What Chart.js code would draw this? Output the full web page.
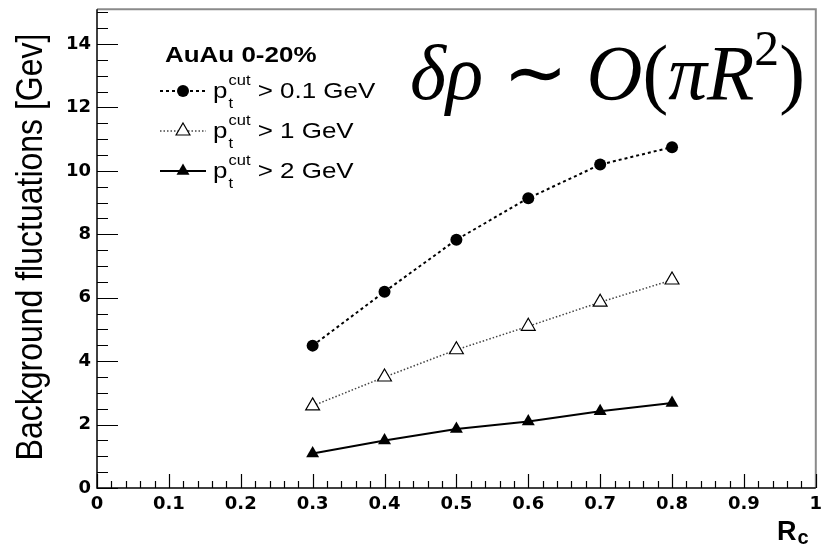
<!DOCTYPE html>
<html><head><meta charset="utf-8">
<script src="https://cdn.jsdelivr.net/npm/chart.js@4.4.0/dist/chart.umd.min.js"></script>
<style>html,body{margin:0;padding:0;background:#fff;overflow:hidden}canvas{display:block}</style>
</head><body>
<canvas id="c" width="825" height="546"></canvas>
<script>
// ---- data ----
const rValues   = [0.3, 0.4, 0.5, 0.6, 0.7, 0.8];
const ptCut01   = [4.49, 6.19, 7.83, 9.14, 10.2, 10.75];
const ptCut1    = [2.59, 3.5, 4.36, 5.1, 5.86, 6.56];
const ptCut2    = [1.09, 1.5, 1.86, 2.1, 2.42, 2.68];
const xTickValues = [0, 0.1, 0.2, 0.3, 0.4, 0.5, 0.6, 0.7, 0.8, 0.9, 1];
const yTickValues = [0, 2, 4, 6, 8, 10, 12, 14];
const seriesLabels = ['> 0.1 GeV', '> 1 GeV', '> 2 GeV'];
const legendTitle = 'AuAu 0-20%';
const yTitle = 'Background fluctuations [Gev]';
const xTitleMain = 'R', xTitleSub = 'c';

const SX = 1.18; // horizontal stretch of the reference text
const tickFont = {family: 'DejaVu Sans', weight: 'bold', size: 18};

function pts(ys){ return rValues.map((x, i) => ({x: x, y: ys[i]})); }

function stretchedText(ctx, text, x, y, font, sx){
  ctx.save(); ctx.font = font; ctx.translate(x, y); ctx.scale(sx, 1);
  ctx.fillText(text, 0, 0); const w = ctx.measureText(text).width * sx;
  ctx.restore(); return w;
}
function drawMarker(ctx, style, x, y, r, fill, stroke, lw){
  ctx.save(); ctx.beginPath();
  if (style === 'circle') ctx.arc(x, y, r, 0, Math.PI*2);
  else { const h = Math.sqrt(3)/2*r;
    ctx.moveTo(x, y - r); ctx.lineTo(x + h, y + r/2); ctx.lineTo(x - h, y + r/2); ctx.closePath(); }
  ctx.fillStyle = fill; ctx.fill();
  if (lw > 0){ ctx.lineWidth = lw; ctx.strokeStyle = stroke; ctx.stroke(); }
  ctx.restore();
}

const decor = {
  id: 'decor',
  beforeDatasetsDraw(chart){
    const ctx = chart.ctx, a = chart.chartArea, xs = chart.scales.x, ys = chart.scales.y;
    ctx.save();
    // frame
    ctx.strokeStyle = '#8a8a8a'; ctx.lineWidth = 2;
    ctx.beginPath(); ctx.moveTo(a.left, a.top); ctx.lineTo(a.right, a.top); ctx.lineTo(a.right, a.bottom); ctx.stroke();
    ctx.strokeStyle = '#000'; ctx.lineWidth = 1.5;
    ctx.beginPath(); ctx.moveTo(a.left, a.top); ctx.lineTo(a.left, a.bottom); ctx.lineTo(a.right, a.bottom); ctx.stroke();
    // inward ticks
    ctx.lineWidth = 1.2;
    ctx.beginPath();
    for (let i = 0; i <= 50; i++){
      const px = Math.round(xs.getPixelForValue(i/50)) + 0.5;
      const len = (i % 5 === 0) ? 14 : 7;
      ctx.moveTo(px, a.bottom); ctx.lineTo(px, a.bottom - len);
    }
    for (let i = 0; i <= 30; i++){
      const v = i*0.5; if (v > ys.max) break;
      const py = Math.round(ys.getPixelForValue(v)) + 0.5;
      const len = (i % 4 === 0) ? 21 : 11;
      ctx.moveTo(a.left, py); ctx.lineTo(a.left + len, py);
    }
    ctx.stroke();
    ctx.restore();
  },
  afterDraw(chart){
    const ctx = chart.ctx, ds = chart.data.datasets;
    ctx.save();
    ctx.fillStyle = '#000'; ctx.textAlign = 'left'; ctx.textBaseline = 'alphabetic';
    // legend
    stretchedText(ctx, legendTitle, 165, 62, 'bold 22px "Liberation Sans"', SX);
    const rows = [98, 138, 178];
    ds.forEach((d, i) => {
      const b = rows[i], my = b - 7;
      ctx.save();
      ctx.strokeStyle = d.borderColor; ctx.lineWidth = d.borderWidth;
      ctx.setLineDash(d.borderDash || []);
      ctx.beginPath(); ctx.moveTo(160, my); ctx.lineTo(206, my); ctx.stroke();
      ctx.restore();
      drawMarker(ctx, d.pointStyle, 183, my, d.pointRadius, d.pointBackgroundColor, d.pointBorderColor, d.pointBorderWidth);
      let x = 213;
      x += stretchedText(ctx, 'p', x, b, '22px "Liberation Sans"', SX);
      const w1 = stretchedText(ctx, 'cut', x + 1, b - 13, '14px "Liberation Sans"', SX);
      stretchedText(ctx, 't', x + 1, b + 10, '14px "Liberation Sans"', SX);
      x += w1 + 1;
      stretchedText(ctx, ' ' + seriesLabels[i], x, b, '22px "Liberation Sans"', SX);
    });
    // y title
    ctx.save();
    ctx.translate(42, 247); ctx.scale(SX, 1); ctx.rotate(-Math.PI/2);
    ctx.font = '32px "Liberation Sans"'; ctx.textAlign = 'center';
    ctx.fillText(yTitle, 0, 0);
    ctx.restore();
    // x title
    let xr = 777;
    xr += stretchedText(ctx, xTitleMain, xr, 540, 'bold 27px "Liberation Sans"', 1.0);
    stretchedText(ctx, xTitleSub, xr + 1, 544, 'bold 20px "Liberation Sans"', 1.0);
    // formula
    const it = 'italic 78px "Liberation Serif"', up = '78px "Liberation Serif"', sm = '50px "Liberation Serif"';
    const parts = [['δρ', it, 0], [' ∼ ', up, 0], ['O', it, 0], ['(', up, 0], ['πR', it, 0], ['2', sm, -34], [')', up, 0]];
    let total = 0;
    parts.forEach(p => { ctx.font = p[1]; total += ctx.measureText(p[0]).width; });
    const fsx = 395 / total;
    let fx = 410;
    parts.forEach(p => { fx += stretchedText(ctx, p[0], fx, 99 + p[2], p[1], fsx); });
    ctx.restore();
  }
};

new Chart(document.getElementById('c'), {
  type: 'line',
  data: {
    datasets: [
      {label: 'pt cut > 0.1 GeV', data: pts(ptCut01), borderColor: '#000', borderWidth: 2, borderDash: [3, 3],
       pointStyle: 'circle', pointRadius: 6, pointBackgroundColor: '#000', pointBorderColor: '#000', pointBorderWidth: 0},
      {label: 'pt cut > 1 GeV', data: pts(ptCut1), borderColor: '#444', borderWidth: 1.5, borderDash: [1.5, 2],
       pointStyle: 'triangle', pointRadius: 8, pointBackgroundColor: '#fff', pointBorderColor: '#000', pointBorderWidth: 1.2},
      {label: 'pt cut > 2 GeV', data: pts(ptCut2), borderColor: '#000', borderWidth: 2,
       pointStyle: 'triangle', pointRadius: 7.5, pointBackgroundColor: '#000', pointBorderColor: '#000', pointBorderWidth: 0}
    ]
  },
  options: {
    responsive: false, animation: false, devicePixelRatio: 1,
    layout: {padding: {top: 8, right: 4, left: 0, bottom: 0}},
    plugins: {legend: {display: false}, tooltip: {enabled: false}},
    elements: {line: {tension: 0}},
    scales: {
      x: {type: 'linear', min: 0, max: 1,
          grid: {display: false, drawTicks: false}, border: {display: false},
          afterBuildTicks: s => { s.ticks = xTickValues.map(v => ({value: v})); },
          ticks: {font: tickFont, color: '#000', padding: 6, maxRotation: 0, autoSkip: false,
                  callback: v => String(Math.round(v*10)/10)},
          afterFit: s => { s.height = 58; s.paddingLeft = 0; s.paddingRight = 0; }},
      y: {type: 'linear', min: 0, max: 15.1,
          grid: {display: false, drawTicks: false}, border: {display: false},
          afterBuildTicks: s => { s.ticks = yTickValues.map(v => ({value: v})); },
          ticks: {font: tickFont, color: '#000', padding: 6, autoSkip: false},
          afterFit: s => { s.width = 97; s.paddingTop = 0; s.paddingBottom = 0; }}
    }
  },
  plugins: [decor]
});
</script>
</body></html>
